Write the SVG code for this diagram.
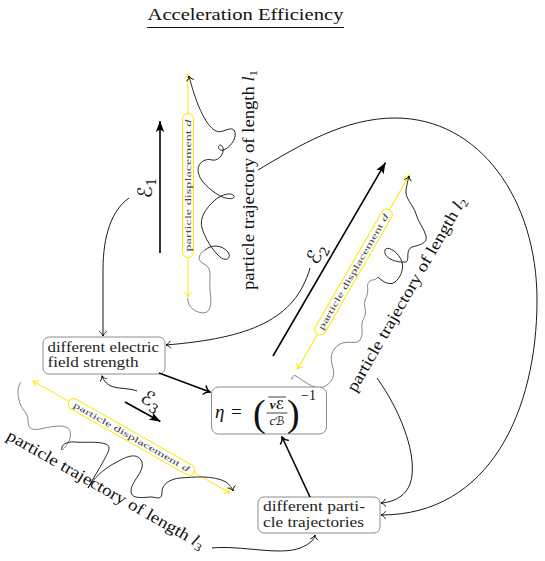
<svg xmlns="http://www.w3.org/2000/svg" width="545" height="561" viewBox="0 0 545 561" font-family="'Liberation Serif', 'DejaVu Serif', serif">
<style>
  text { font-family: "Liberation Serif", "DejaVu Serif", serif; fill: #111; }
  .box { fill: #fff; stroke: #8c8c8c; stroke-width: 1; }
  .bt { font-size: 14px; fill: #222; }
  .yl { stroke: #ffe600; stroke-width: 1; fill: none; }
  .yb { fill: #fff; stroke: #ffe600; stroke-width: 1; }
  .disp { font-size: 8.5px; fill: #444; text-anchor: middle; }
  .tl { font-size: 16.5px; text-anchor: middle; fill: #111; }
  .cal { font-family: "DejaVu Serif", "DejaVu Sans", "Noto Sans", serif; }
  .thin { stroke: #000; stroke-width: 0.9; fill: none; }
  .thick { stroke: #000; stroke-width: 1.6; fill: none; }
  .tg { stroke: #777; stroke-width: 0.9; fill: none; }
  .tb { stroke: #111; stroke-width: 0.9; fill: none; }
  .el { font-size: 20px; text-anchor: middle; }
</style>
<defs>
  <marker id="toK" viewBox="-6 -5 7 10" markerWidth="7" markerHeight="10" refX="0" refY="0" orient="auto-start-reverse" markerUnits="userSpaceOnUse">
    <path d="M-4.5,-3.8 C-3.5,-1.6 -1.2,-0.4 0,0 C-1.2,0.4 -3.5,1.6 -4.5,3.8" fill="none" stroke="#000" stroke-width="0.9"/>
  </marker>
  <marker id="toK2" viewBox="-8 -6 9 12" markerWidth="9" markerHeight="12" refX="0" refY="0" orient="auto" markerUnits="userSpaceOnUse">
    <path d="M-6,-4.8 C-4.6,-2 -1.6,-0.5 0,0 C-1.6,0.5 -4.6,2 -6,4.8" fill="none" stroke="#000" stroke-width="1.4"/>
  </marker>
  <marker id="toY" viewBox="-6 -5 7 10" markerWidth="7" markerHeight="10" refX="0" refY="0" orient="auto-start-reverse" markerUnits="userSpaceOnUse">
    <path d="M-4.5,-3.8 C-3.5,-1.6 -1.2,-0.4 0,0 C-1.2,0.4 -3.5,1.6 -4.5,3.8" fill="none" stroke="#ffe600" stroke-width="1"/>
  </marker>
  <marker id="lx" viewBox="-12 -6 13 12" markerWidth="13" markerHeight="12" refX="0" refY="0" orient="auto" markerUnits="userSpaceOnUse">
    <path d="M0,0 L-11,-4.2 L-8.5,0 L-11,4.2 Z" fill="#000"/>
  </marker>
</defs>

<rect width="545" height="561" fill="#fff"/>

<g id="title">
  <text x="245.5" y="20" font-size="16.5" text-anchor="middle" textLength="196" lengthAdjust="spacingAndGlyphs">Acceleration Efficiency</text>
  <line x1="147" y1="27.5" x2="344" y2="27.5" stroke="#111" stroke-width="1"/>
</g>

<!-- trajectory 1 -->
<g id="trajectory-1">
  <g transform="translate(188,185.5) rotate(-90)">
    <line x1="-111.5" y1="0" x2="111.5" y2="0" class="yl" marker-start="url(#toY)" marker-end="url(#toY)"/>
    <rect x="-72" y="-5.5" width="144" height="11" rx="5.5" class="yb"/>
    <text x="0" y="2.7" class="disp" textLength="132" lengthAdjust="spacingAndGlyphs">particle displacement <tspan font-style="italic">d</tspan></text>
  </g>
  <path class="tg" d="M188,298 C187,304 192,312 203,313 C213,313 211,298 210,290 C209,278 213,268 204,264 C197,261 198,254 205,250"/>
  <path class="tb" marker-end="url(#toK)" d="M205,250 C212,244 222,245 228,252 C232,258 226,262 220,257 C212,250 205,238 202,228 C199,218 206,208 215,200 C222,194 232,192 234,196 C235,200 226,199 220,196 C210,190 198,180 198,170 C198,162 206,158 212,160 C220,162 226,150 222,146 C218,142 216,152 224,150 C232,146 238,136 234,130 C230,126 222,134 216,131 C205,126 195,100 189,76"/>
  <text class="tl" transform="translate(253.5,180) rotate(-90)" textLength="220" lengthAdjust="spacingAndGlyphs">particle trajectory of length <tspan font-style="italic">l</tspan><tspan font-size="11" dy="3">1</tspan></text>
</g>

<!-- trajectory 2 -->
<g id="trajectory-2">
  <g transform="translate(353.5,272) rotate(-60)">
    <line x1="-112" y1="0" x2="112" y2="0" class="yl" marker-start="url(#toY)" marker-end="url(#toY)"/>
    <rect x="-72" y="-5.5" width="144" height="11" rx="5.5" class="yb"/>
    <text x="0" y="2.7" class="disp" textLength="132" lengthAdjust="spacingAndGlyphs">particle displacement <tspan font-style="italic">d</tspan></text>
  </g>
  <path class="tg" d="M293,378 C290,382 292,374 296,376 C303,380 313,390 323,387 C333,383 335,375 333,368 C330,358 330,350 340,344 C348,340 356,345 360,340 C365,332 359,326 364,318 C368,311 362,306 366,298 C370,290 365,284 370,281 C373,279 375,281 378,277"/>
  <path class="tb" marker-end="url(#toK)" d="M378,277 C383,282 390,286 395,282 C400,278 404,270 402,262 C399,252 387,245 385,250 C383,258 396,263 406,262 C410,260 405,250 412,247 C420,245 428,243 426,236 C424,228 418,222 416,214 C413,204 405,199 406,190 C407,184 408,180 409,176"/>
  <text class="tl" transform="translate(411,297) rotate(-60)" textLength="222" lengthAdjust="spacingAndGlyphs">particle trajectory of length <tspan font-style="italic">l</tspan><tspan font-size="11" dy="3">2</tspan></text>
</g>

<!-- trajectory 3 -->
<g id="trajectory-3">
  <g transform="translate(131.5,437) rotate(29.6)">
    <line x1="-113" y1="0" x2="113" y2="0" class="yl" marker-start="url(#toY)" marker-end="url(#toY)"/>
    <rect x="-72" y="-5.5" width="144" height="11" rx="5.5" class="yb"/>
    <text x="0" y="2.7" class="disp" textLength="132" lengthAdjust="spacingAndGlyphs">particle displacement <tspan font-style="italic">d</tspan></text>
  </g>
  <path class="tg" d="M21,382 C18,386 17,392 19,400 C21,410 28,412 28,420 C28,427 30,431 40,429 C50,427 62,424 68,428 C74,434 68,446 62,450"/>
  <path class="tb" marker-end="url(#toK)" d="M62,450 C60,446 66,441 75,442 C85,443 97,441 106,444 C112,447 108,452 104,460 C100,468 92,480 88,488 C92,480 104,468 117,462 C127,456 138,452 142,462 C145,472 130,482 131,492 C132,500 145,497 152,497 C158,498 162,500 162,492 C162,484 170,479 180,478 C195,477 213,475 226,482 C230,485 232,488 233,491"/>
  <text class="tl" transform="translate(103,494) rotate(29.6)" textLength="224" lengthAdjust="spacingAndGlyphs">particle trajectory of length <tspan font-style="italic">l</tspan><tspan font-size="11" dy="3">3</tspan></text>
</g>

<!-- field labels -->
<g id="field-E1">
  <text class="el cal" transform="translate(152,188) rotate(-90)">ℰ<tspan font-size="13" dy="4">1</tspan></text>
</g>
<g id="field-E2">
  <text class="el cal" transform="translate(322,257) rotate(-60)">ℰ<tspan font-size="13" dy="4">2</tspan></text>
</g>
<g id="field-E3">
  <text class="el cal" transform="translate(148,406) rotate(30)">ℰ<tspan font-size="13" dy="4">3</tspan></text>
</g>

<!-- nodes -->
<g id="node-field-strength">
  <rect class="box" x="43" y="337" width="122" height="37" rx="6"/>
  <text class="bt" x="47.5" y="352" textLength="111.5" lengthAdjust="spacingAndGlyphs">different electric</text>
  <text class="bt" x="47.5" y="366.5" textLength="91" lengthAdjust="spacingAndGlyphs">field strength</text>
</g>

<g id="node-efficiency">
  <rect class="box" x="211.5" y="387" width="115" height="47" rx="7"/>
  <text x="215" y="418" font-size="19" font-style="italic">η</text>
  <text x="231" y="418" font-size="19">=</text>
  <text x="253" y="426" font-size="38">(</text>
  <line x1="268" y1="397" x2="286" y2="397" stroke="#111" stroke-width="0.8"/>
  <text x="277" y="409" font-size="13" font-weight="bold" font-style="italic" text-anchor="middle"><tspan>v</tspan><tspan class="cal" font-size="12">ℰ</tspan></text>
  <line x1="266.5" y1="413" x2="287.5" y2="413" stroke="#111" stroke-width="0.8"/>
  <text x="277" y="425" font-size="13" text-anchor="middle"><tspan font-style="italic">c</tspan><tspan class="cal" font-size="12">ℬ</tspan></text>
  <text x="287" y="426" font-size="38">)</text>
  <text x="301" y="400" font-size="14">−1</text>
</g>

<g id="node-trajectories">
  <rect class="box" x="258" y="497" width="122" height="36" rx="6"/>
  <text class="bt" x="263" y="510.5" textLength="102" lengthAdjust="spacingAndGlyphs">different parti-</text>
  <text class="bt" x="263" y="526.5" textLength="101" lengthAdjust="spacingAndGlyphs">cle trajectories</text>
</g>

<!-- connectors -->
<g id="connectors">
  <line class="thick" x1="160" y1="253" x2="160" y2="121" marker-end="url(#lx)"/>
  <line class="thick" x1="273" y1="356" x2="385.5" y2="162.6" marker-end="url(#lx)"/>
  <line class="thick" x1="125" y1="402" x2="160.4" y2="421.5" marker-end="url(#lx)"/>

  <path class="thin" marker-end="url(#toK)" d="M129,198 C112,210 103,235 103,270 L103,336"/>
  <path class="thin" marker-end="url(#toK)" d="M310,268 C295,320 250,338 166,345"/>
  <path class="thin" marker-end="url(#toK)" d="M137,391 C124,386 108,392 102,376"/>
  <path class="thin" marker-end="url(#toK)" d="M258,170 C300,145 345,118 395,118 C480,118 537,200 537,300 C537,410 490,515 381,515"/>
  <path class="thin" marker-end="url(#toK)" d="M377,378 C400,410 415,450 412,475 C410,495 395,502 381,503"/>
  <path class="thin" marker-end="url(#toK)" d="M212,548 C240,545 280,556 300,548 C310,544 314,540 315,535"/>

  <line class="thick" x1="159" y1="373" x2="210" y2="392" marker-end="url(#toK2)"/>
  <line class="thick" x1="310" y1="497" x2="282" y2="437" marker-end="url(#toK2)"/>
</g>
</svg>
